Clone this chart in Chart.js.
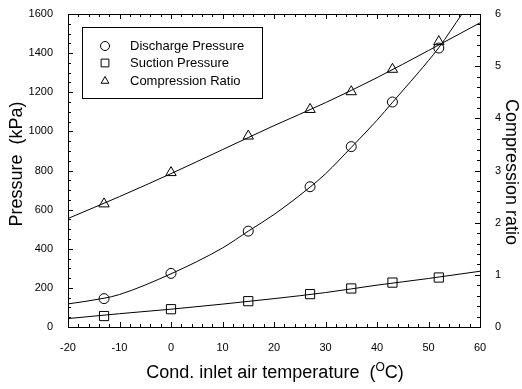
<!DOCTYPE html>
<html>
<head>
<meta charset="utf-8">
<script src="https://cdn.jsdelivr.net/npm/chart.js@4.4.1/dist/chart.umd.min.js"></script>
<style>
  html, body { margin: 0; padding: 0; background: #fff; }
  #wrap { width: 522px; height: 389px; }
</style>
</head>
<body>
<div id="wrap"><canvas id="c" width="522" height="389"></canvas></div>
<script>
// measured points
const tempC = [-13, 0, 15, 27, 35, 43, 52];
const dischargeKPa = [145, 274, 490, 717, 922, 1150, 1426];
const suctionKPa = [56, 91, 132, 168, 197, 227, 253];
const compRatio = [2.36, 2.96, 3.66, 4.17, 4.51, 4.94, 5.47];

// fitted curves
const dischargeFitT = [-20, -13, -10, 0, 10, 15, 20, 27, 30, 35, 40, 43, 50, 52, 56.5];
const dischargeFit = [118, 147, 166, 272, 404, 490, 575, 715, 783, 918, 1057, 1148, 1362, 1428, 1600];
const fitT = [-20, -10, 0, 10, 20, 30, 40, 50, 60];
const suctionFit = [43, 68, 91, 117, 145, 176, 214, 248, 285];
const ratioFit = [2.08, 2.50, 2.94, 3.40, 3.86, 4.30, 4.78, 5.30, 5.83];

const legendLabels = ["Discharge Pressure", "Suction Pressure", "Compression Ratio"];
const legendStyles = ["circle", "rect", "triangle"];

const FONT = "'Liberation Sans', Arial, Helvetica, sans-serif";
const pts = (xs, ys) => xs.map((x, i) => ({ x, y: ys[i] }));

const fitLine = (data, axis) => ({
  data, yAxisID: axis, showLine: true, pointRadius: 0,
  borderColor: "#000", borderWidth: 1, cubicInterpolationMode: "monotone", order: 2,
});
const markers = (data, axis, style, r) => ({
  data, yAxisID: axis, showLine: false, pointStyle: style, pointRadius: r,
  borderColor: "#000", borderWidth: 1, backgroundColor: "rgba(0,0,0,0)", order: 1,
});

// inward ticks, frame, titles and legend box
const decor = {
  id: "decor",
  afterDraw(chart) {
    const { ctx, chartArea: a, scales } = chart;
    const x = scales.x, y = scales.y, y1 = scales.y1;
    ctx.save();
    ctx.strokeStyle = "#000";
    ctx.lineWidth = 1;
    ctx.strokeRect(Math.round(a.left) + 0.5, Math.round(a.top) + 0.5,
      Math.round(a.right - a.left), Math.round(a.bottom - a.top));

    ctx.beginPath();
    for (let v = -20; v <= 60; v += 2) {
      const px = Math.round(x.getPixelForValue(v)) + 0.5;
      const len = v % 10 === 0 ? 5 : 3;
      ctx.moveTo(px, a.bottom); ctx.lineTo(px, a.bottom - len);
      ctx.moveTo(px, a.top); ctx.lineTo(px, a.top + len);
    }
    for (let v = 0; v <= 1600; v += 50) {
      const py = Math.round(y.getPixelForValue(v)) + 0.5;
      const len = v % 200 === 0 ? 5 : 3;
      ctx.moveTo(a.left, py); ctx.lineTo(a.left + len, py);
    }
    for (let i = 0; i <= 30; i++) {
      const py = Math.round(y1.getPixelForValue(i / 5)) + 0.5;
      const len = i % 5 === 0 ? 5 : 3;
      ctx.moveTo(a.right, py); ctx.lineTo(a.right - len, py);
    }
    ctx.stroke();

    ctx.fillStyle = "#000";
    ctx.textAlign = "center";
    ctx.textBaseline = "middle";
    ctx.font = "18px " + FONT;
    ctx.save();
    ctx.translate(17, 164);
    ctx.rotate(-Math.PI / 2);
    ctx.fillText("Pressure  (kPa)", 0, 0);
    ctx.restore();
    ctx.save();
    ctx.translate(511, 172);
    ctx.rotate(Math.PI / 2);
    ctx.fillText("Compression ratio", 0, 0);
    ctx.restore();

    // x title with superscript O
    const p1 = "Cond. inlet air temperature  (", sup = "O", p2 = "C)";
    ctx.textAlign = "left";
    ctx.textBaseline = "alphabetic";
    ctx.font = "18px " + FONT;
    const w1 = ctx.measureText(p1).width, w3 = ctx.measureText(p2).width;
    ctx.font = "12px " + FONT;
    const w2 = ctx.measureText(sup).width;
    let tx = 275 - (w1 + w2 + w3) / 2;
    const base = 378;
    ctx.font = "18px " + FONT;
    ctx.fillText(p1, tx, base);
    ctx.font = "12px " + FONT;
    ctx.fillText(sup, tx + w1, base - 7);
    ctx.font = "18px " + FONT;
    ctx.fillText(p2, tx + w1 + w2, base);

    // legend
    ctx.strokeRect(82.5, 27.5, 180, 71);
    ctx.font = "13px " + FONT;
    ctx.textBaseline = "middle";
    const rows = [46, 63, 81];
    legendLabels.forEach((t, i) => {
      ctx.fillStyle = "rgba(0,0,0,0)";
      Chart.helpers.drawPoint(ctx, { pointStyle: legendStyles[i], radius: legendStyles[i] === "rect" ? 5.5 : 4.5, borderWidth: 1 }, 105, rows[i]);
      ctx.fillStyle = "#000";
      ctx.fillText(t, 130, rows[i]);
    });
    ctx.restore();
  },
};

const plain = (v) => String(v);

new Chart(document.getElementById("c"), {
  type: "scatter",
  data: {
    datasets: [
      fitLine(pts(dischargeFitT, dischargeFit), "y"),
      fitLine(pts(fitT, suctionFit), "y"),
      fitLine(pts(fitT, ratioFit), "y1"),
      markers(pts(tempC, dischargeKPa), "y", "circle", 5),
      markers(pts(tempC, suctionKPa), "y", "rect", 6.5),
      markers(pts(tempC, compRatio), "y1", "triangle", 6),
    ],
  },
  options: {
    responsive: false,
    animation: false,
    events: [],
    layout: { padding: { top: 14, left: 0, right: 0, bottom: 0 } },
    plugins: { legend: { display: false }, tooltip: { enabled: false } },
    scales: {
      x: {
        type: "linear", min: -20, max: 60,
        grid: { display: false }, border: { display: false },
        ticks: { stepSize: 10, color: "#000", padding: 6, maxRotation: 0, callback: plain, font: { size: 11, family: FONT } },
        afterFit(s) { s.height = 62; },
      },
      y: {
        position: "left", min: 0, max: 1600,
        grid: { display: false }, border: { display: false },
        ticks: { stepSize: 200, color: "#000", padding: 7, callback: plain, font: { size: 11, family: FONT } },
        afterFit(s) { s.width = 68; },
      },
      y1: {
        position: "right", min: 0, max: 6,
        grid: { display: false }, border: { display: false },
        ticks: { stepSize: 1, color: "#000", padding: 7, callback: plain, font: { size: 11, family: FONT } },
        afterFit(s) { s.width = 42; },
      },
    },
  },
  plugins: [decor],
});
</script>
</body>
</html>
